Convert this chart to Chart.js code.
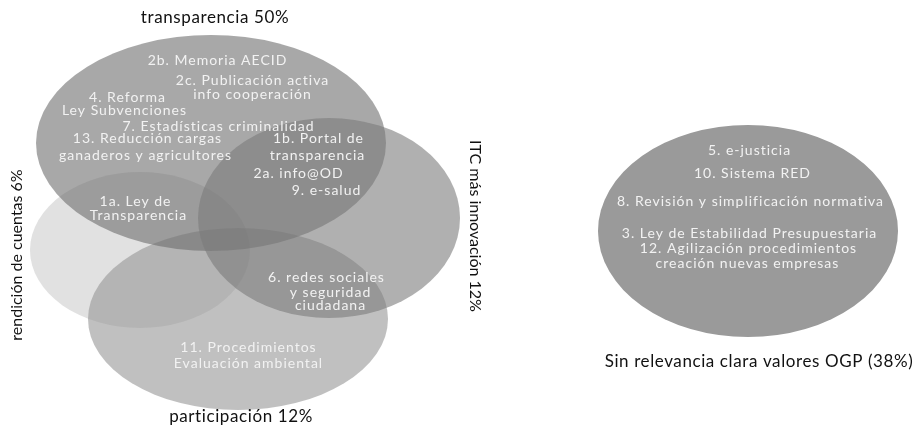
<!DOCTYPE html>
<html>
<head>
<meta charset="utf-8">
<script src="https://cdn.jsdelivr.net/npm/chart.js@4.4.1/dist/chart.umd.min.js"></script>
<style>
html,body{margin:0;padding:0;background:#fff;}
#wrap{width:919px;height:428px;position:relative;}
</style>
</head>
<body>
<div id="wrap"><canvas id="c"></canvas></div>
<script>
// ---- Sets (Venn ellipses) ----
const setNames  = ['transparencia', 'rendición de cuentas', 'ITC más innovación', 'participación', 'Sin relevancia clara valores OGP'];
const setShares = [50, 6, 12, 12, 38];
const setCx = [211, 140, 329, 238, 748];
const setCy = [143, 250, 218, 319, 231];
const setRx = [175, 110, 131, 150, 150];
const setRy = [108, 78, 100, 91, 106];

// ---- Set title positions ----
const titleX = [215, 17, 475, 241, 759];
const titleY = [18, 255, 226, 417, 362];
const titleRot = [0, -90, 90, 0, 0];

// ---- Commitment labels ----
const itemText = [
  '2b. Memoria AECID',
  '2c. Publicación activa', 'info cooperación',
  '4. Reforma', 'Ley Subvenciones',
  '7. Estadísticas criminalidad',
  '13. Reducción cargas', 'ganaderos y agricultores',
  '1b. Portal de', 'transparencia',
  '2a. info@OD',
  '9. e-salud',
  '1a. Ley de', 'Transparencia',
  '6. redes sociales', 'y seguridad', 'ciudadana',
  '11. Procedimientos', 'Evaluación ambiental',
  '5. e-justicia',
  '10. Sistema RED',
  '8. Revisión y simplificación normativa',
  '3. Ley de Estabilidad Presupuestaria',
  '12. Agilización procedimientos', 'creación nuevas empresas'
];
const itemX = [217, 252, 252, 127, 124, 218, 147, 145, 318, 317, 298, 326, 135, 138, 326, 330, 330, 248, 248, 749, 752, 750, 749, 748, 747];
const itemY = [60, 80, 94, 97, 110, 126, 138, 155, 138, 155, 173, 190, 201, 215, 277, 292, 305, 347, 363, 150, 173, 201, 233, 248, 263];

// styles
const setFill = ['rgba(110,110,110,0.6)', 'rgba(205,205,205,0.6)', 'rgba(123,123,123,0.6)', 'rgba(150,150,150,0.6)', '#9a9a9a'];
const drawOrder = [1, 3, 0, 2, 4];
const FONT = 'Lato, "Open Sans", sans-serif';

const titles = setNames.map((n, i) => i === 4 ? n + ' (' + setShares[i] + '%)' : n + ' ' + setShares[i] + '%');

const vennPlugin = {
  id: 'venn',
  beforeDatasetsDraw(chart) {
    const {ctx, scales: {x, y}} = chart;
    ctx.save();
    drawOrder.forEach(i => {
      const px = x.getPixelForValue(setCx[i]);
      const py = y.getPixelForValue(setCy[i]);
      const rx = Math.abs(x.getPixelForValue(setCx[i] + setRx[i]) - px);
      const ry = Math.abs(y.getPixelForValue(setCy[i] + setRy[i]) - py);
      ctx.beginPath();
      ctx.ellipse(px, py, rx, ry, 0, 0, Math.PI * 2);
      ctx.fillStyle = setFill[i];
      ctx.fill();
    });
    ctx.restore();
  },
  afterDatasetsDraw(chart) {
    const {ctx} = chart;
    ctx.save();
    ctx.textAlign = 'center';
    ctx.textBaseline = 'middle';
    const m0 = chart.getDatasetMeta(0);
    ctx.font = '14px ' + FONT;
    ctx.letterSpacing = '1px';
    ctx.fillStyle = '#f2f2f2';
    m0.data.forEach((pt, i) => {
      ctx.fillText(itemText[i], pt.x + 0.5, pt.y);
    });
    const m1 = chart.getDatasetMeta(1);
    ctx.fillStyle = '#111';
    m1.data.forEach((pt, i) => {
      ctx.save();
      ctx.translate(pt.x, pt.y);
      ctx.rotate(titleRot[i] * Math.PI / 180);
      if (titleRot[i] === 0) { ctx.font = '17px ' + FONT; ctx.letterSpacing = '0.6px'; }
      else { ctx.font = '16px ' + FONT; ctx.letterSpacing = '0px'; }
      ctx.fillText(titles[i], 0, 0);
      ctx.restore();
    });
    ctx.restore();
  }
};

new Chart(document.getElementById('c'), {
  type: 'scatter',
  data: {
    datasets: [
      { label: 'items', data: itemX.map((v, i) => ({x: v, y: itemY[i]})), pointRadius: 0, pointHoverRadius: 0 },
      { label: 'sets', data: titleX.map((v, i) => ({x: v, y: titleY[i]})), pointRadius: 0, pointHoverRadius: 0 }
    ]
  },
  options: {
    responsive: true,
    maintainAspectRatio: false,
    animation: false,
    layout: { padding: 0 },
    plugins: { legend: { display: false }, tooltip: { enabled: false } },
    scales: {
      x: { type: 'linear', min: 0, max: 919, display: false },
      y: { type: 'linear', min: 0, max: 428, reverse: true, display: false }
    }
  },
  plugins: [vennPlugin]
});
</script>
</body>
</html>
